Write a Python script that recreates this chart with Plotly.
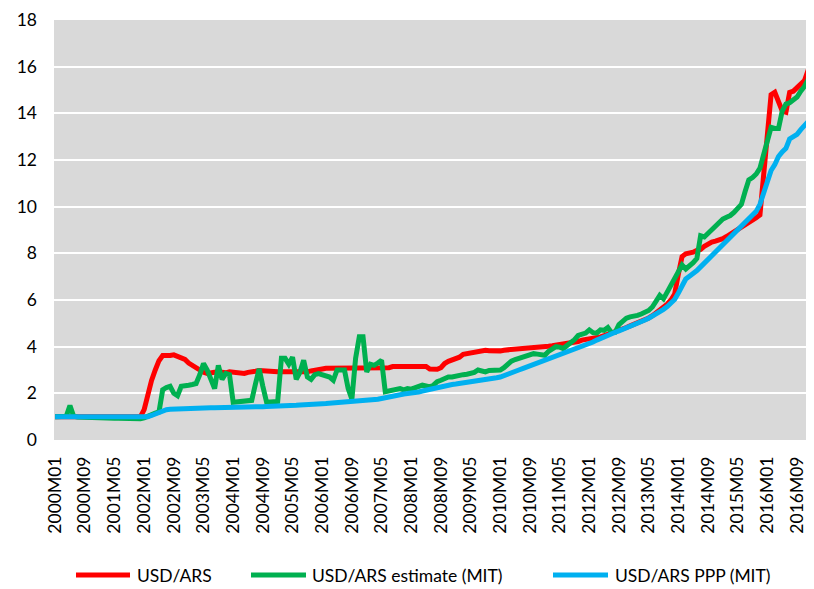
import plotly.graph_objects as go

# Monthly categories 2000M01 .. 2017M01
MONTHS = [f"{y}M{m:02d}" for y in range(2000, 2018) for m in range(1, 13)][:205]

TICK_LABELS = ["2000M01", "2000M09", "2001M05", "2002M01", "2002M09", "2003M05",
               "2004M01", "2004M09", "2005M05", "2006M01", "2006M09", "2007M05",
               "2008M01", "2008M09", "2009M05", "2010M01", "2010M09", "2011M05",
               "2012M01", "2012M09", "2013M05", "2014M01", "2014M09", "2015M05",
               "2016M01", "2016M09"]
Y_TICKS = [0, 2, 4, 6, 8, 10, 12, 14, 16, 18]

USD_ARS = [
    # 2000
    1.0, 1.0, 1.0, 1.0, 1.0, 1.0, 1.0, 1.0, 1.0, 1.0, 1.0, 1.0,
    # 2001
    1.0, 1.0, 1.0, 1.0, 1.0, 1.0, 1.0, 1.0, 1.0, 1.0, 1.0, 1.0,
    # 2002
    1.3, 2.0, 2.55, 3.0, 3.4, 3.62, 3.6, 3.62, 3.65, 3.58, 3.5, 3.45,
    # 2003
    3.3, 3.2, 3.05, 2.95, 2.9, 2.85, 2.85, 2.9, 2.92, 2.88, 2.88, 2.92,
    # 2004
    2.9, 2.92, 2.88, 2.85, 2.9, 2.95, 2.95, 2.98, 2.98, 2.97, 2.95, 2.96,
    # 2005
    2.93, 2.92, 2.92, 2.91, 2.9, 2.89, 2.88, 2.9, 2.92, 2.96, 2.97, 3.0,
    # 2006
    3.04, 3.07, 3.07, 3.06, 3.06, 3.08, 3.08, 3.08, 3.1, 3.1, 3.08, 3.06,
    # 2007
    3.1, 3.1, 3.1, 3.1, 3.08, 3.08, 3.1, 3.15, 3.15, 3.16, 3.14, 3.14,
    # 2008
    3.15, 3.16, 3.16, 3.17, 3.15, 3.04, 3.02, 3.03, 3.1, 3.28, 3.37, 3.43,
    # 2009
    3.47, 3.55, 3.67, 3.7, 3.74, 3.78, 3.82, 3.84, 3.85, 3.83, 3.81, 3.8,
    # 2010
    3.82, 3.85, 3.86, 3.88, 3.9, 3.92, 3.93, 3.94, 3.95, 3.96, 3.97, 3.98,
    # 2011
    3.99, 4.02, 4.04, 4.06, 4.08, 4.1, 4.13, 4.18, 4.2, 4.22, 4.28, 4.3,
    # 2012
    4.33, 4.36, 4.38, 4.42, 4.47, 4.52, 4.58, 4.64, 4.7, 4.75, 4.82, 4.89,
    # 2013
    4.95, 5.02, 5.09, 5.16, 5.23, 5.33, 5.44, 5.58, 5.7, 5.82, 6.0, 6.25,
    # 2014
    7.1, 7.86, 7.98, 8.0, 8.05, 8.13, 8.17, 8.3, 8.42, 8.48, 8.52, 8.55,
    # 2015
    8.63, 8.72, 8.82, 8.9, 8.98, 9.08, 9.18, 9.3, 9.42, 9.53, 9.65, 11.4,
    # 2016
    13.6, 14.8, 14.9, 14.45, 14.1, 14.05, 14.9, 14.95, 15.1, 15.2, 15.4, 15.85,
    # 2017M01
    15.9,
]

USD_ARS_EST_MIT = [
    # 2000
    1.0, 1.0, 1.0, 1.02, 1.48, 1.02, 0.98, 0.97, 0.97, 0.96, 0.96, 0.95,
    # 2001
    0.95, 0.95, 0.94, 0.94, 0.93, 0.93, 0.92, 0.92, 0.92, 0.91, 0.91, 0.91,
    # 2002
    0.95, 1.03, 1.1, 1.15, 1.2, 2.15, 2.25, 2.3, 2.0, 1.9, 2.3, 2.35,
    # 2003
    2.35, 2.38, 2.42, 2.8, 3.28, 3.0, 2.6, 2.2, 3.2, 2.6, 2.85, 2.8,
    # 2004
    1.62, 1.63, 1.64, 1.65, 1.66, 1.7, 2.4, 3.05, 2.3, 1.63, 1.63, 1.64,
    # 2005
    1.65, 3.5, 3.5, 3.25, 3.55, 2.6, 2.9, 3.42, 2.7, 2.6, 2.8, 2.85,
    # 2006
    2.8, 2.75, 2.7, 2.56, 3.0, 3.0, 3.0, 2.2, 1.75, 3.5, 4.42, 4.42,
    # 2007
    2.92, 3.25, 3.2, 3.3, 3.42, 2.07, 2.1, 2.14, 2.2, 2.2, 2.15, 2.2,
    # 2008
    2.18, 2.22, 2.28, 2.35, 2.32, 2.28, 2.35, 2.5, 2.56, 2.62, 2.7, 2.7,
    # 2009
    2.75, 2.78, 2.8, 2.82, 2.85, 2.9, 3.0, 2.95, 2.92, 2.98, 3.0, 3.0,
    # 2010
    3.0, 3.1, 3.25, 3.38, 3.45, 3.5, 3.55, 3.55, 3.62, 3.7, 3.68, 3.65,
    # 2011
    3.63, 3.8, 3.88, 4.0, 3.98, 3.92, 4.05, 4.15, 4.3, 4.48, 4.52, 4.58,
    # 2012
    4.72, 4.6, 4.58, 4.72, 4.7, 4.82, 4.6, 4.62, 4.95, 5.1, 5.22, 5.28,
    # 2013
    5.3, 5.34, 5.4, 5.45, 5.55, 5.7, 6.0, 6.2, 6.05, 6.35, 6.6, 6.9,
    # 2014
    7.2, 7.5, 7.33, 7.45, 7.6, 7.78, 8.75, 8.7, 8.85, 9.05, 9.2, 9.35,
    # 2015
    9.47, 9.55, 9.62, 9.75, 9.9, 10.1, 10.65, 11.15, 11.25, 11.4, 11.65, 12.3,
    # 2016
    12.8, 13.4, 13.35, 13.35, 14.1, 14.4, 14.45, 14.6, 14.7, 14.95, 15.15, 15.45,
    # 2017M01
    15.8,
]

USD_ARS_PPP_MIT = [
    # 2000
    1.0, 1.0, 1.0, 0.99, 0.99, 0.99, 0.99, 0.98, 0.98, 0.98, 0.98, 0.98,
    # 2001
    0.98, 0.98, 0.97, 0.97, 0.97, 0.97, 0.97, 0.96, 0.96, 0.96, 0.96, 0.96,
    # 2002
    0.97, 1.0, 1.05, 1.12, 1.2, 1.26, 1.3, 1.32, 1.33, 1.34, 1.34, 1.35,
    # 2003
    1.35, 1.36, 1.36, 1.37, 1.37, 1.37, 1.38, 1.38, 1.38, 1.39, 1.39, 1.4,
    # 2004
    1.4, 1.4, 1.41, 1.41, 1.42, 1.42, 1.43, 1.43, 1.43, 1.44, 1.44, 1.45,
    # 2005
    1.45, 1.46, 1.46, 1.47, 1.48, 1.49, 1.5, 1.5, 1.51, 1.52, 1.53, 1.54,
    # 2006
    1.55, 1.56, 1.57, 1.58, 1.59, 1.61, 1.62, 1.63, 1.64, 1.65, 1.66, 1.67,
    # 2007
    1.68, 1.7, 1.72, 1.75, 1.78, 1.82, 1.86, 1.9, 1.93, 1.95, 1.97, 1.99,
    # 2008
    2.0, 2.03, 2.06, 2.1, 2.14, 2.19, 2.23, 2.27, 2.3, 2.33, 2.36, 2.38,
    # 2009
    2.4, 2.42, 2.44, 2.46, 2.49, 2.52, 2.55, 2.58, 2.6, 2.62, 2.64, 2.67,
    # 2010
    2.7, 2.75, 2.8, 2.86, 2.93, 3.0, 3.06, 3.12, 3.17, 3.22, 3.27, 3.32,
    # 2011
    3.38, 3.44, 3.5, 3.56, 3.62, 3.68, 3.74, 3.8, 3.86, 3.92, 3.98, 4.05,
    # 2012
    4.12, 4.2, 4.28, 4.36, 4.44, 4.5, 4.56, 4.62, 4.68, 4.74, 4.8, 4.86,
    # 2013
    4.92, 4.98, 5.06, 5.14, 5.22, 5.3, 5.4, 5.5, 5.6, 5.72, 5.86, 6.02,
    # 2014
    6.3, 6.65, 6.9, 7.02, 7.12, 7.26, 7.42, 7.58, 7.74, 7.9, 8.05, 8.22,
    # 2015
    8.4, 8.55, 8.7, 8.85, 9.0, 9.15, 9.3, 9.46, 9.62, 9.8, 10.1, 10.6,
    # 2016
    11.2, 11.55, 11.8, 12.15, 12.35, 12.5, 12.9, 13.0, 13.1, 13.3, 13.45, 13.65,
    # 2017M01
    14.0,
]

SERIES = [
    ("USD/ARS", USD_ARS, "#FF0000"),
    ("USD/ARS estimate (MIT)", USD_ARS_EST_MIT, "#00B050"),
    ("USD/ARS PPP (MIT)", USD_ARS_PPP_MIT, "#00B0F0"),
]

FONT = "Lato"
# page body has an 8px margin; figure is sized/offset to compensate
OFF = 8
W, H = 814 - OFF, 589 - OFF
ML, MR, MT, MB = 54 - OFF, 1, 20 - OFF, 149

fig = go.Figure()
for name, vals, color in SERIES:
    fig.add_trace(go.Scatter(
        x=MONTHS, y=vals, mode="lines", name=name,
        line=dict(color=color, width=5),
        showlegend=False,
    ))

# Manual legend (long line keys like the original); positions in page pixels
pw = W - ML - MR
ph = H - MT - MB
def px_x(px):
    return (px - OFF - ML) / pw
def px_y(py):
    return (H - MB - (py - OFF)) / ph

legend_pos = [(76, 130, 135), (251, 306, 310), (553, 608, 613)]
ly = 575
for (name, _, color), (x0, x1, tx) in zip(SERIES, legend_pos):
    fig.add_shape(type="line", xref="paper", yref="paper",
                  x0=px_x(x0), x1=px_x(x1), y0=px_y(ly), y1=px_y(ly),
                  line=dict(color=color, width=5))
    fig.add_annotation(xref="paper", yref="paper", x=px_x(tx), y=px_y(ly),
                       text=name, showarrow=False, xanchor="left", yanchor="middle",
                       font=dict(family=FONT, size=17.5, color="#000000"))

fig.update_layout(
    width=W, height=H,
    margin=dict(l=ML, r=MR, t=MT, b=MB, autoexpand=False),
    paper_bgcolor="#FFFFFF",
    plot_bgcolor="#D9D9D9",
    font=dict(family=FONT, size=17.5, color="#000000"),
    showlegend=False,
)
fig.update_xaxes(
    type="category",
    range=[-0.3, 204.3],
    tickmode="array", tickvals=TICK_LABELS, ticktext=TICK_LABELS,
    tickangle=-90,
    showgrid=False, zeroline=False, showline=False,
    ticks="", ticklabelstandoff=12,
    tickfont=dict(family=FONT, size=17.5, color="#000000"),
    automargin=False,
)
fig.update_yaxes(
    range=[0, 18], tickmode="array", tickvals=Y_TICKS,
    showgrid=True, gridcolor="#FFFFFF", gridwidth=1.5,
    zeroline=False, showline=False,
    ticks="", ticklabelstandoff=16,
    tickfont=dict(family=FONT, size=17.5, color="#000000"),
    automargin=False,
)

fig.write_html("out.html")
